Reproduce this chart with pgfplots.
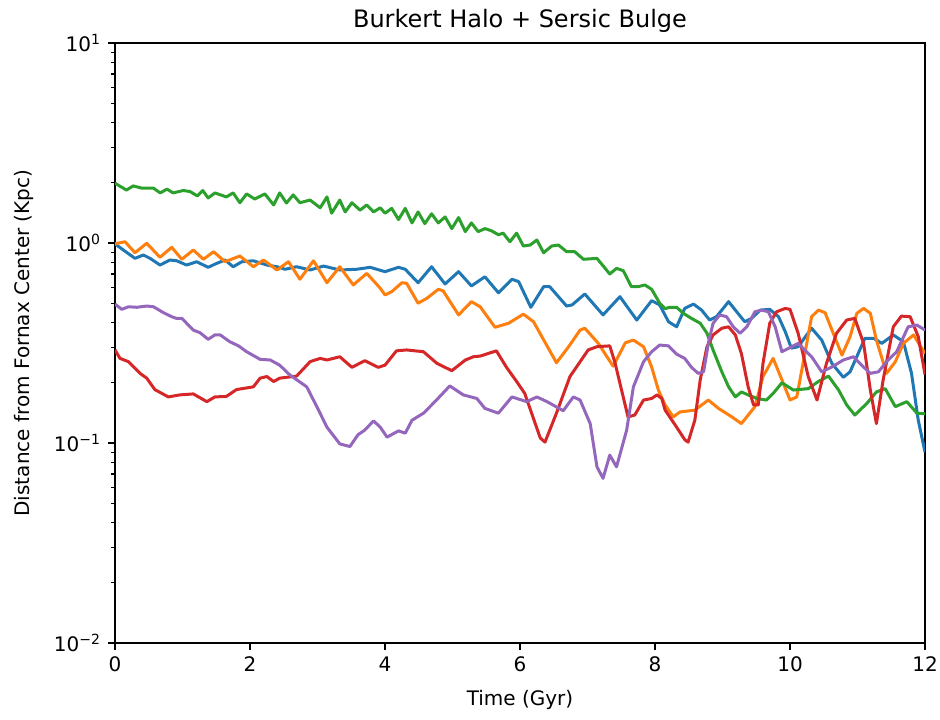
\documentclass[border=0pt]{standalone}
\usepackage{fontspec}
\setmainfont{DejaVu Sans}
\usepackage{pgfplots}
\pgfplotsset{compat=1.18}
\definecolor{c0}{HTML}{1F77B4}
\definecolor{c1}{HTML}{FF7F0E}
\definecolor{c2}{HTML}{2CA02C}
\definecolor{c3}{HTML}{D62728}
\definecolor{c4}{HTML}{9467BD}
\begin{document}
\fontsize{10}{12}\selectfont
\begin{tikzpicture}
\useasboundingbox (-57.5pt,-38pt) rectangle (412.5pt,321.5pt);
\begin{axis}[
  at={(0,0)}, anchor=south west,
  scale only axis, width=405pt, height=300pt,
  xmin=0, xmax=12, ymode=log, ymin=0.01, ymax=10,
  xtick={0,2,4,6,8,10,12},
  ytick={0.01,0.1,1,10},
  yticklabels={10\textsuperscript{−2},10\textsuperscript{−1},10\textsuperscript{0},10\textsuperscript{1}},
  tick pos=left, tick align=outside,
  major tick length=3.5pt, minor tick length=2pt,
  every tick/.append style={black, line width=0.8pt},
  every minor tick/.append style={black, line width=0.6pt},
  /pgf/number format/assume math mode=true,
  axis line style={line width=0.8pt},
  title={Burkert Halo + Sersic Bulge},
  title style={font=\fontsize{12}{14}\selectfont, yshift=-4.5pt},
  xlabel={Time (Gyr)},
  xlabel style={yshift=-2pt},
  ylabel={Distance from Fornax Center (Kpc)},
  ylabel style={yshift=3pt},
  every axis plot/.append style={line width=1.5pt, line join=round},
]
\addplot[c0] coordinates {
(0,0.99) (0.123,0.923) (0.296,0.838) (0.42,0.871) (0.52,0.838) (0.667,0.776) (0.815,0.822) (0.914,0.815) (1.06,0.776) (1.21,0.806) (1.38,0.756) (1.51,0.792) (1.63,0.822) (1.75,0.761) (1.88,0.806) (2.05,0.815) (2.25,0.776) (2.40,0.761) (2.52,0.739) (2.69,0.761) (2.89,0.733) (3.09,0.767) (3.33,0.733) (3.58,0.739) (3.78,0.756) (4.0,0.719) (4.20,0.756) (4.30,0.739) (4.49,0.633) (4.69,0.761) (4.89,0.624) (5.09,0.719) (5.28,0.61) (5.48,0.678) (5.68,0.564) (5.88,0.659) (5.98,0.641) (6.16,0.477) (6.35,0.605) (6.44,0.605) (6.69,0.484) (6.77,0.49) (6.96,0.556) (7.23,0.437) (7.48,0.539) (7.73,0.412) (7.95,0.515) (8.07,0.49) (8.20,0.404) (8.32,0.381) (8.44,0.471) (8.57,0.495) (8.69,0.462) (8.81,0.412) (8.91,0.428) (9.09,0.509) (9.21,0.453) (9.33,0.404) (9.43,0.42) (9.56,0.462) (9.70,0.466) (9.83,0.428) (9.93,0.36) (10.02,0.298) (10.12,0.303) (10.32,0.375) (10.47,0.327) (10.62,0.25) (10.79,0.213) (10.89,0.227) (11.11,0.334) (11.24,0.334) (11.36,0.315) (11.53,0.347) (11.68,0.321) (11.80,0.223) (11.90,0.13) (12.0,0.09)
};
\addplot[c1] coordinates {
(0,0.99) (0.148,1.015) (0.296,0.894) (0.47,0.997) (0.667,0.848) (0.84,0.952) (0.99,0.829) (1.16,0.923) (1.31,0.829) (1.46,0.905) (1.63,0.806) (1.85,0.861) (2.05,0.761) (2.20,0.822) (2.40,0.733) (2.57,0.806) (2.74,0.659) (2.94,0.815) (3.14,0.633) (3.33,0.761) (3.53,0.617) (3.73,0.705) (3.93,0.594) (4.0,0.55) (4.10,0.571) (4.25,0.633) (4.32,0.629) (4.49,0.50) (4.62,0.529) (4.79,0.587) (4.86,0.577) (5.09,0.437) (5.28,0.509) (5.41,0.480) (5.63,0.379) (5.83,0.397) (6.05,0.441) (6.20,0.404) (6.54,0.252) (6.72,0.303) (6.89,0.367) (6.96,0.375) (7.16,0.315) (7.38,0.242) (7.56,0.317) (7.68,0.327) (7.83,0.303) (7.95,0.24) (8.05,0.184) (8.15,0.155) (8.27,0.135) (8.37,0.143) (8.59,0.146) (8.79,0.164) (8.94,0.149) (9.14,0.135) (9.28,0.125) (9.48,0.152) (9.60,0.215) (9.75,0.265) (9.88,0.207) (10.0,0.164) (10.1,0.17) (10.22,0.28) (10.32,0.428) (10.42,0.462) (10.52,0.448) (10.64,0.354) (10.77,0.275) (10.89,0.34) (10.99,0.445) (11.09,0.471) (11.19,0.445) (11.28,0.327) (11.43,0.223) (11.56,0.255) (11.68,0.315) (11.83,0.347) (12.0,0.28)
};
\addplot[c2] coordinates {
(0,1.99) (0.17,1.84) (0.27,1.93) (0.40,1.88) (0.57,1.88) (0.67,1.78) (0.77,1.86) (0.86,1.78) (1.01,1.83) (1.11,1.81) (1.22,1.72) (1.30,1.83) (1.38,1.68) (1.48,1.78) (1.65,1.70) (1.75,1.78) (1.85,1.59) (1.95,1.76) (2.07,1.66) (2.22,1.76) (2.35,1.55) (2.44,1.78) (2.54,1.585) (2.64,1.74) (2.74,1.59) (2.89,1.64) (3.04,1.50) (3.14,1.70) (3.21,1.41) (3.33,1.64) (3.41,1.43) (3.51,1.59) (3.63,1.46) (3.73,1.55) (3.83,1.43) (3.93,1.50) (4.0,1.41) (4.10,1.49) (4.20,1.31) (4.30,1.49) (4.40,1.26) (4.49,1.43) (4.59,1.25) (4.69,1.40) (4.79,1.26) (4.89,1.35) (4.99,1.18) (5.09,1.34) (5.19,1.14) (5.28,1.26) (5.38,1.14) (5.48,1.18) (5.58,1.15) (5.68,1.10) (5.75,1.12) (5.85,1.015) (5.95,1.12) (6.05,0.966) (6.15,0.977) (6.25,1.035) (6.35,0.894) (6.47,0.966) (6.57,0.977) (6.69,0.905) (6.81,0.905) (6.94,0.829) (7.14,0.838) (7.33,0.70) (7.43,0.747) (7.53,0.727) (7.65,0.605) (7.75,0.605) (7.85,0.617) (7.95,0.587) (8.07,0.50) (8.15,0.47) (8.22,0.477) (8.32,0.477) (8.42,0.445) (8.54,0.42) (8.67,0.397) (8.77,0.354) (8.86,0.292) (8.99,0.227) (9.09,0.191) (9.19,0.17) (9.28,0.18) (9.38,0.174) (9.51,0.167) (9.65,0.164) (9.75,0.177) (9.88,0.2) (10.05,0.184) (10.27,0.187) (10.42,0.203) (10.57,0.216) (10.72,0.184) (10.84,0.155) (10.96,0.138) (11.14,0.158) (11.28,0.18) (11.41,0.187) (11.56,0.152) (11.73,0.161) (11.88,0.141) (12.0,0.14)
};
\addplot[c3] coordinates {
(0,0.292) (0.074,0.265) (0.20,0.255) (0.37,0.223) (0.47,0.211) (0.59,0.185) (0.79,0.17) (0.96,0.174) (1.16,0.176) (1.36,0.161) (1.48,0.17) (1.65,0.171) (1.80,0.185) (2.05,0.191) (2.15,0.211) (2.25,0.215) (2.35,0.203) (2.44,0.211) (2.54,0.213) (2.69,0.216) (2.89,0.255) (3.04,0.265) (3.14,0.26) (3.33,0.27) (3.51,0.239) (3.70,0.258) (3.90,0.239) (4.0,0.245) (4.17,0.289) (4.32,0.292) (4.57,0.286) (4.77,0.25) (4.99,0.23) (5.19,0.26) (5.31,0.27) (5.41,0.272) (5.65,0.289) (5.80,0.239) (5.95,0.203) (6.07,0.177) (6.30,0.106) (6.37,0.101) (6.54,0.141) (6.74,0.215) (7.01,0.292) (7.14,0.303) (7.33,0.306) (7.41,0.25) (7.60,0.135) (7.70,0.138) (7.83,0.164) (7.95,0.167) (8.03,0.174) (8.10,0.167) (8.15,0.146) (8.32,0.12) (8.44,0.104) (8.49,0.101) (8.59,0.13) (8.67,0.207) (8.77,0.303) (8.86,0.347) (8.99,0.375) (9.09,0.381) (9.19,0.347) (9.28,0.28) (9.38,0.191) (9.46,0.155) (9.53,0.155) (9.60,0.25) (9.70,0.397) (9.80,0.453) (9.93,0.471) (10.0,0.466) (10.12,0.354) (10.27,0.215) (10.40,0.164) (10.54,0.25) (10.69,0.354) (10.84,0.412) (10.96,0.42) (11.09,0.315) (11.19,0.184) (11.28,0.125) (11.38,0.207) (11.53,0.381) (11.65,0.431) (11.78,0.428) (11.90,0.34) (12.0,0.22)
};
\addplot[c4] coordinates {
(0,0.495) (0.10,0.466) (0.20,0.48) (0.32,0.477) (0.47,0.484) (0.57,0.48) (0.72,0.448) (0.84,0.428) (0.91,0.42) (0.99,0.42) (1.16,0.367) (1.26,0.356) (1.38,0.33) (1.48,0.347) (1.56,0.347) (1.70,0.321) (1.83,0.306) (1.95,0.286) (2.15,0.262) (2.30,0.26) (2.44,0.245) (2.59,0.219) (2.84,0.191) (2.99,0.152) (3.14,0.12) (3.33,0.099) (3.48,0.096) (3.60,0.11) (3.70,0.116) (3.83,0.129) (3.93,0.12) (4.03,0.107) (4.20,0.115) (4.30,0.112) (4.40,0.13) (4.57,0.141) (4.74,0.161) (4.96,0.193) (5.16,0.174) (5.36,0.167) (5.48,0.149) (5.68,0.141) (5.88,0.170) (6.10,0.161) (6.25,0.170) (6.40,0.161) (6.64,0.145) (6.79,0.17) (6.89,0.164) (7.04,0.125) (7.14,0.076) (7.23,0.0666) (7.33,0.087) (7.43,0.076) (7.58,0.116) (7.68,0.191) (7.83,0.255) (7.95,0.286) (8.07,0.309) (8.20,0.306) (8.32,0.278) (8.44,0.265) (8.54,0.239) (8.64,0.223) (8.72,0.227) (8.79,0.315) (8.86,0.397) (8.96,0.437) (9.06,0.428) (9.16,0.381) (9.26,0.354) (9.36,0.381) (9.48,0.453) (9.58,0.462) (9.68,0.453) (9.78,0.381) (9.88,0.286) (10.0,0.300) (10.12,0.315) (10.32,0.27) (10.47,0.227) (10.62,0.24) (10.79,0.26) (10.94,0.27) (11.06,0.245) (11.19,0.223) (11.31,0.227) (11.43,0.255) (11.58,0.286) (11.75,0.381) (11.88,0.389) (12.0,0.367)
};
\end{axis}
\end{tikzpicture}
\end{document}
